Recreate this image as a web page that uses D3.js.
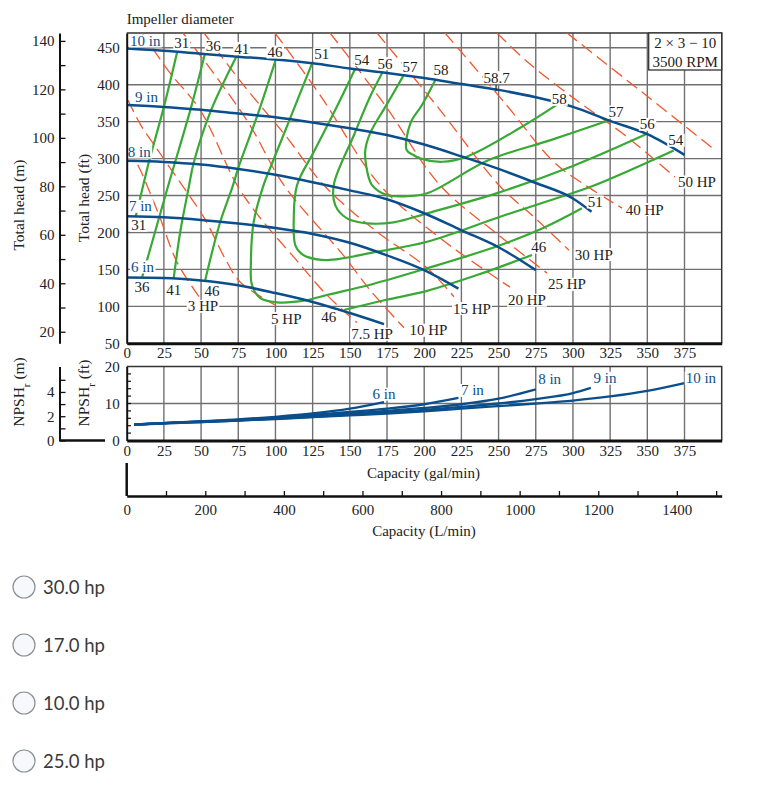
<!DOCTYPE html>
<html><head><meta charset="utf-8">
<script src="https://cdn.jsdelivr.net/npm/d3@7"></script>
<style>
body{margin:0;background:#fff;}
svg text{font-family:"Liberation Serif","Times New Roman",serif;font-size:15px;fill:#222;}
</style></head>
<body><svg id="c" width="757" height="787"></svg>
<script>
// ---------------- DATA ----------------
const diameters = ["6 in","7 in","8 in","9 in","10 in"];
// head curves (Q gal/min, H ft)
const head6  = [[0,139],[25,138.5],[50,135],[75,128.5],[100,118],[125,106],[150,91],[173,76]];
const head7  = [[0,222],[25,220.5],[50,217],[75,212],[100,206],[125,198],[150,186],[175,169],[200,149],[223,124]];
const head8  = [[0,297],[25,295.5],[50,292],[75,286],[100,278],[125,268],[150,257],[175,245],[200,226],[225,203],[250,180],[275,149]];
const head9  = [[0,372.5],[25,370],[50,366],[75,361],[100,356],[125,349],[150,341],[175,332],[200,319],[225,303],[250,286],[275,267],[300,246],[312.5,228]];
const head10 = [[0,449],[25,446],[50,442],[75,438],[100,434],[125,429],[150,422],[175,416],[200,409],[225,401],[250,393],[275,383],[300,370],[325,351],[350,333],[375,305]];
// NPSHr curves (Q gal/min, ft)
const npsh6  = [[5,4.3],[25,4.7],[50,5.2],[75,5.7],[100,6.4],[125,7.3],[150,8.6],[173,10.4]];
const npsh7  = [[5,4.3],[25,4.7],[50,5.1],[75,5.6],[100,6.2],[125,6.9],[150,7.7],[175,8.6],[200,9.8],[223,11.5]];
const npsh8  = [[5,4.3],[25,4.7],[50,5.1],[75,5.5],[100,6.0],[125,6.6],[150,7.3],[175,8.0],[200,8.8],[225,9.8],[250,11.3],[275,13.8]];
const npsh9  = [[5,4.3],[25,4.7],[50,5.0],[75,5.4],[100,5.9],[125,6.4],[150,7.0],[175,7.6],[200,8.3],[225,9.1],[250,10.0],[275,11.2],[300,12.8],[312,14.2]];
const npsh10 = [[5,4.3],[25,4.6],[50,5.0],[75,5.4],[100,5.8],[125,6.3],[150,6.8],[175,7.3],[200,7.9],[225,8.6],[250,9.3],[275,10.0],[300,10.8],[325,11.9],[350,13.4],[375,15.5]];
// efficiency contours (%)
const eff31  = [[34,445],[25,370],[15,296],[10.3,257],[6,221]];
const eff36  = [[52.6,442],[42.8,366],[29,271],[14.3,167],[10.3,139]];
const eff41  = [[73.7,438],[56.2,363],[45,294],[41.7,261],[36,201],[31.6,138]];
const eff46a = [[99.9,432],[87.6,357],[75.3,289],[71,261],[62.9,214.5],[52.8,135.7]];
const eff46b = [[146,95],[174,108.6],[202,121],[235,142],[272.5,169.5]];
const eff51  = [[124.6,429],[108,345],[97,290],[92,264],[85.4,214.5],[83.5,160],[84.2,129],[89.8,111],[101,105.5],[120,108],[134.6,115.4],[165,130],[201.9,151.5],[250,182],[280,206],[306,232.7]];
const eff54  = [[153.7,422],[140,365],[126,310],[114.5,264],[112.3,219],[113.3,183],[117,172],[121.2,167],[134.7,162.7],[168.3,174],[201.9,187.5],[252,222],[290,247],[315,264.3],[367.7,311]];
const eff56  = [[172.2,417.5],[163.6,383.7],[152.8,331.9],[139.2,264.2],[140.2,237.1],[148.1,219.1],[161.5,212.4],[179.5,213.7],[201.9,225.9],[250,254],[300,290],[349.1,332.8]];
const eff57  = [[185.9,412],[174.8,373],[163.6,334.2],[160.4,311.6],[161.1,289],[164.9,264.2],[175,250.7],[187,249],[201.9,253],[243.4,298],[285,325],[322.9,351]];
const eff58  = [[207.5,406.5],[198.5,372.5],[190.7,347.7],[188.2,311.6],[192.9,304.8],[197.2,300.3],[212,295.7],[228.6,302.5],[265.7,343.1],[289.3,373]];
// constant brake-horsepower lines
const hp3   = [[0.9,314],[7.6,291],[13.6,264],[22.4,220],[33.8,160],[48.6,113]];
const hp5   = [[0.9,379],[9.6,345],[19,317],[37.2,264],[52,220],[67.4,160],[76.2,133],[99.7,102]];
const hp7_5 = [[10.3,470],[29.1,416],[49.3,366],[74.2,264],[89.6,220],[113.1,165],[134.7,115],[154.8,78]];
const hp10  = [[37.8,470],[59.4,413],[82.9,345],[105.7,264],[146.1,168],[163.6,122],[186.4,71]];
const hp15  = [[52,470],[79.5,397],[106.4,332],[132.6,264],[166.9,203],[201.9,152],[220,113]];
const hp20  = [[99.7,470],[130,386],[170.3,264],[210.6,192.5],[257.7,126]];
const hp25  = [[136.7,470],[173.6,372.5],[210.6,264],[250.9,195],[282.6,145]];
const hp30  = [[168.3,470],[210.6,366],[250.3,264],[274.5,219.6],[297.3,176]];
const hp40  = [[214,470],[254.3,375],[287.9,294],[311.4,260],[333,233]];
const hp50  = [[248.9,470],[270.5,429],[304,376.5],[333,334.6],[355.2,298],[368.6,275]];
const hp60  = [[296,470],[346.4,390],[395.5,311.6]];
// labels
const diaLabels = [["10 in",2.2,459.5],["9 in",5.6,383.7],["8 in",0.7,309.3],["7 in",1.5,235.8],["6 in",2.9,153.7]];
const effLabels = [["31",37,456.8],["36",58.2,452.3],["41",77.3,449.2],["46",99.7,444.6],["51",131.1,442.4],["54",158,434.3],["56",173.6,428.9],["57",190.5,424.3],["58",211.3,419.8],["58.7",248.7,410],["58",290.8,380.6],["57",328.9,363.4],["56",350,346.8],["54",369.1,325.1],
                   ["31",8.1,210.1],["36",10.3,126.6],["41",31.6,122.1],["46",57.3,120.8],["46",135.8,86],["46",277,180.7],["51",315,241.6]];
const peakTick = [248.3,400,391];
const hpLabels = [["3 HP",51.3,100.4],["5 HP",107.3,83.8],["7.5 HP",164.9,62.6],["10 HP",202.8,68],["15 HP",232.1,97.4],["20 HP",269.1,108.6],["25 HP",296,130.2],["30 HP",314,170.4],["40 HP",348.2,231.3],["50 HP",383.4,268.7]];
const npshLabels = [["6 in",173,12.6,"middle"],["7 in",224.7,13.6,"start"],["8 in",276.6,16.6,"start"],["9 in",313.8,16.9,"start"],["10 in",375.8,16.9,"start"]];
const xTicks = d3.range(0,376,25);
const ftTicks = d3.range(50,451,50);
const mTicks = d3.range(20,141,10);
const lminTicks = d3.range(0,1501,100);
const options = ["30.0 hp","17.0 hp","10.0 hp","25.0 hp"];

// ---------------- SCALES ----------------
const FT_PER_M = 3.28084, L_PER_GAL = 3.78541;
const x   = d3.scaleLinear().domain([0,400]).range([126.7,721.7]);
const yF  = d3.scaleLinear().domain([50,470]).range([343.3,33]);
const yM  = d3.scaleLinear().domain([50/FT_PER_M,470/FT_PER_M]).range([343.3,33]);
const yN  = d3.scaleLinear().domain([0,20]).range([440.5,366.5]);
const yNm = d3.scaleLinear().domain([0,20/FT_PER_M]).range([440.5,366.5]);
const xL  = d3.scaleLinear().domain([0,400*L_PER_GAL]).range([126.7,721.7]);

const BLUE="#0a4f8c", GREEN="#39a935", RED="#f0582e", GRID="#707070";
const svg = d3.select("#c");
svg.append("defs").append("clipPath").attr("id","pc").append("rect")
  .attr("x",x(0)).attr("y",yF(470)).attr("width",x(400)-x(0)).attr("height",yF(50)-yF(470));

// ---------------- GRID ----------------
const grid = svg.append("g").attr("stroke",GRID).attr("stroke-width",1.4);
d3.range(25,400,25).forEach(q=>{
  grid.append("line").attr("x1",x(q)).attr("x2",x(q)).attr("y1",yF(50)).attr("y2",yF(470));
  grid.append("line").attr("x1",x(q)).attr("x2",x(q)).attr("y1",yN(0)).attr("y2",yN(20));
});
d3.range(100,451,50).forEach(h=>grid.append("line").attr("x1",x(0)).attr("x2",x(400)).attr("y1",yF(h)).attr("y2",yF(h)));
grid.append("line").attr("x1",x(0)).attr("x2",x(400)).attr("y1",yN(10)).attr("y2",yN(10));
const border = svg.append("g").attr("stroke","#333").attr("stroke-width",1.5).attr("fill","none");
border.append("path").attr("d",`M${x(0)},${yF(470)}H${x(400)}V${yF(50)}`);
border.append("path").attr("d",`M${x(0)},${yN(20)}H${x(400)}V${yN(0)}`);

// ---------------- CURVES ----------------
const cr = d3.curveCatmullRom.alpha(0.5);
const lineF = d3.line().x(d=>x(d[0])).y(d=>yF(d[1])).curve(cr);
const lineH = d3.line().x(d=>x(d[0])).y(d=>yF(d[1])).curve(d3.curveMonotoneX);
const lineN = d3.line().x(d=>x(d[0])).y(d=>yN(d[1])).curve(d3.curveMonotoneX);

const gp = svg.append("g").attr("clip-path","url(#pc)");
[hp3,hp5,hp7_5,hp10,hp15,hp20,hp25,hp30,hp40,hp50,hp60].forEach(s=>
  gp.append("path").attr("d",lineF(s)).attr("fill","none").attr("stroke",RED).attr("stroke-width",1.3).attr("stroke-dasharray","13,6"));
[eff31,eff36,eff41,eff46a,eff46b,eff51,eff54,eff56,eff57,eff58].forEach(s=>
  gp.append("path").attr("d",lineF(s)).attr("fill","none").attr("stroke",GREEN).attr("stroke-width",2.2));
[head6,head7,head8,head9,head10].forEach(s=>
  gp.append("path").attr("d",lineH(s)).attr("fill","none").attr("stroke",BLUE).attr("stroke-width",2.5));
[npsh6,npsh7,npsh8,npsh9,npsh10].forEach(s=>
  svg.append("path").attr("d",lineN(s)).attr("fill","none").attr("stroke",BLUE).attr("stroke-width",2.3));
svg.append("line").attr("x1",x(peakTick[0])).attr("x2",x(peakTick[0])).attr("y1",yF(peakTick[1])).attr("y2",yF(peakTick[2])).attr("stroke","#222").attr("stroke-width",1.2);

// ---------------- LABELS ----------------
function label(g, txt, px, py, anchor, color){
  const t = g.append("text").attr("x",px).attr("y",py).attr("dy","0.35em")
    .attr("text-anchor",anchor).style("fill",color||"#222").text(txt);
  const b = t.node().getBBox();
  g.insert("rect",()=>t.node()).attr("x",b.x-1).attr("y",b.y+1.5).attr("width",b.width+2).attr("height",b.height-3).attr("fill","#fff");
  return t;
}
const gl = svg.append("g");
diaLabels.forEach(d=>label(gl,d[0],x(d[1]),yF(d[2]),"start",BLUE));
effLabels.forEach(d=>label(gl,d[0],x(d[1]),yF(d[2]),"middle"));
hpLabels.forEach(d=>label(gl,d[0],x(d[1]),yF(d[2]),"middle"));
npshLabels.forEach(d=>label(gl,d[0],x(d[1]),yN(d[2]),d[3],BLUE));

// model box
svg.append("rect").attr("x",648.7).attr("y",yF(470)).attr("width",x(400)-648.7).attr("height",37).attr("fill","#fff").attr("stroke","#333").attr("stroke-width",1.3);
svg.append("text").attr("x",685.2).attr("y",48).attr("text-anchor","middle").text("2 \u00d7 3 \u2212 10");
svg.append("text").attr("x",685.2).attr("y",66.5).attr("text-anchor","middle").text("3500 RPM");
svg.append("text").attr("x",126.7).attr("y",23.5).text("Impeller diameter");

// ---------------- AXES ----------------
function styleAxis(g, w){
  g.select(".domain").attr("stroke","#111").attr("stroke-width",w);
  g.selectAll(".tick line").attr("stroke","#111").attr("stroke-width",1.3);
  g.selectAll(".tick text").style("font-family","Liberation Serif, serif").style("font-size","15px").style("fill","#222");
}
styleAxis(svg.append("g").attr("transform","translate(126.7,0)")
  .call(d3.axisLeft(yF).tickValues(ftTicks).tickSize(0).tickPadding(7)),2);
styleAxis(svg.append("g").attr("transform","translate(59.5,0)")
  .call(d3.axisLeft(yM).tickValues(mTicks).tickSizeInner(-6).tickSizeOuter(0).tickPadding(5).tickFormat(d=>d%20===0?d:"")),2);
styleAxis(svg.append("g").attr("transform","translate(0,343.3)")
  .call(d3.axisBottom(x).tickValues(xTicks).tickSize(0).tickPadding(4)),3);
// NPSH
styleAxis(svg.append("g").attr("transform","translate(126.7,0)")
  .call(d3.axisLeft(yN).tickValues([0,10,20]).tickSize(0).tickPadding(7)),2);
d3.range(2,20,2).forEach(v=>svg.append("line").attr("x1",126.7).attr("x2",131).attr("y1",yN(v)).attr("y2",yN(v)).attr("stroke","#111").attr("stroke-width",1.2));
styleAxis(svg.append("g").attr("transform","translate(59.5,0)")
  .call(d3.axisLeft(yNm).tickValues([0,1,2,3,4,5]).tickSizeInner(-6).tickSizeOuter(0).tickPadding(5).tickFormat(d=>d%2===0?d:"")),2);
svg.append("line").attr("x1",59.5).attr("x2",105).attr("y1",yN(0)).attr("y2",yN(0)).attr("stroke","#111").attr("stroke-width",2.5);
styleAxis(svg.append("g").attr("transform","translate(0,440.5)")
  .call(d3.axisBottom(x).tickValues(xTicks).tickSize(0).tickPadding(5)),3);
// L/min
styleAxis(svg.append("g").attr("transform","translate(0,496)")
  .call(d3.axisBottom(xL).tickValues(lminTicks).tickSizeInner(-5).tickSizeOuter(0).tickPadding(8).tickFormat(d=>d%200===0?d:"")),2.5);
svg.append("line").attr("x1",126.7).attr("x2",126.7).attr("y1",463).attr("y2",496).attr("stroke","#111").attr("stroke-width",2.5);

// axis titles
svg.append("text").attr("x",423.5).attr("y",478).attr("text-anchor","middle").text("Capacity (gal/min)");
svg.append("text").attr("x",424).attr("y",535.5).attr("text-anchor","middle").text("Capacity (L/min)");
function vtitle(px,py,main,sub,rest){
  const t = svg.append("text").attr("transform",`translate(${px},${py}) rotate(-90)`).attr("text-anchor","middle").style("font-size","15.5px");
  t.append("tspan").text(main);
  if(sub){ t.append("tspan").attr("baseline-shift","sub").style("font-size","11px").text(sub); }
  t.append("tspan").text(rest);
}
vtitle(24,205,"Total head","", " (m)");
vtitle(88.5,198,"Total head",""," (ft)");
vtitle(24,392,"NPSH","r"," (m)");
vtitle(88.5,393,"NPSH","r"," (ft)");

// ---------------- ANSWER OPTIONS ----------------
const og = svg.append("g");
options.forEach((o,i)=>{
  const cy = 587 + i*58;
  og.append("circle").attr("cx",24).attr("cy",cy).attr("r",11).attr("fill","#f6f8fc").attr("stroke","#8a8f96").attr("stroke-width",1.2);
  og.append("text").attr("x",43).attr("y",cy+6.5).style("font-family","Lato, sans-serif").style("font-size","18.5px").style("fill","#3a3a3a").text(o);
});
</script>
</body></html>
